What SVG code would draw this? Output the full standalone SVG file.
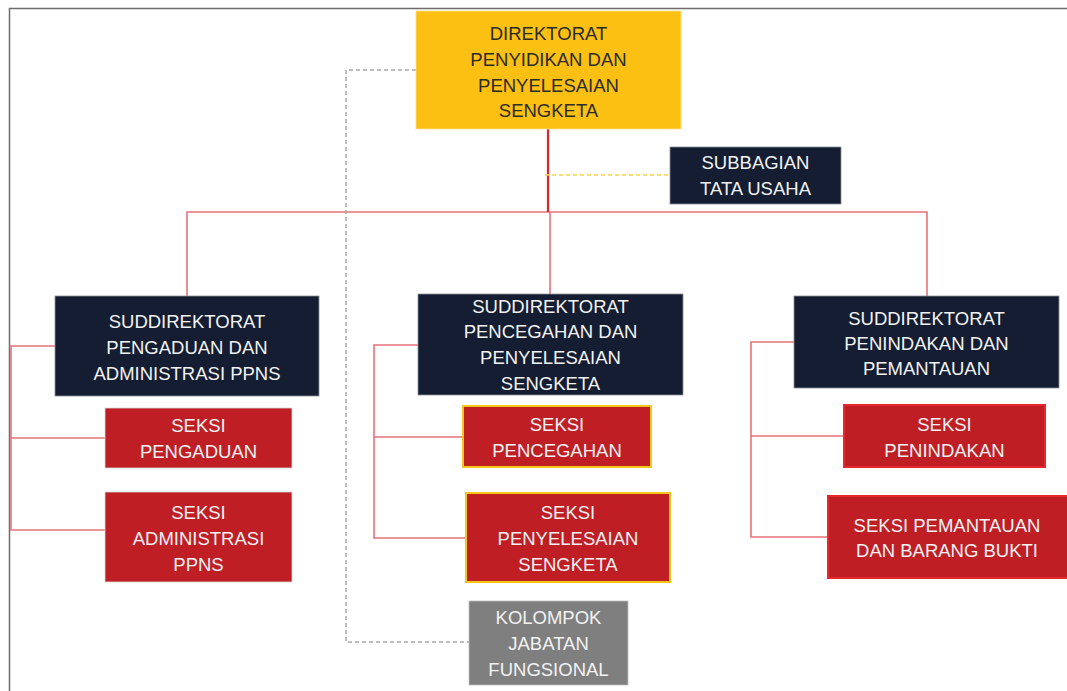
<svg xmlns="http://www.w3.org/2000/svg" width="1067" height="691" viewBox="0 0 1067 691">
<style>
text{font-family:"Liberation Sans",Arial,sans-serif;font-size:18.5px;text-anchor:middle}
.lt{fill:#F2F2F2}
.dk{fill:#2B2B2B}
.navy{fill:#141D31;stroke:#8A8F99;stroke-width:0.8}
.red{fill:#C01E25;stroke:#D9D9D9;stroke-width:0.8}
.redy{fill:#C01E25;stroke:#F5C518;stroke-width:2}
.redr{fill:#C01E25;stroke:#E8262E;stroke-width:2}
.ln{fill:none;stroke:#E8727A;stroke-width:1.6}
</style>
<rect width="1067" height="691" fill="#FFFFFF"/>
<path d="M9.5 691V8.5H1067" fill="none" stroke="#6E6E6E" stroke-width="1.5"/>
<g id="connectors">
<path class="ln" d="M187 296V212H927V297M550 212V295"/>
<path d="M548 129V212" stroke="#E0242C" stroke-width="2.2" fill="none"/>
<path d="M545 175H668" stroke="#F7D24E" stroke-width="1.4" stroke-dasharray="4 3" fill="none"/>
<path d="M416 70H346V642H469" stroke="#A6A6A6" stroke-width="1.4" stroke-dasharray="4 3" fill="none"/>
<path class="ln" d="M55 346H11V530H105M11 438H105"/>
<path class="ln" d="M418 345H374V538H466M374 437H463"/>
<path class="ln" d="M794 342H751V537H828M751 436H844"/>
</g>
<g id="direktorat">
<rect x="416" y="11" width="265" height="118" fill="#FBC011" stroke="#FFE28A" stroke-width="0.8"/>
<text class="dk" x="548.5" y="40">DIREKTORAT</text>
<text class="dk" x="548.5" y="66">PENYIDIKAN DAN</text>
<text class="dk" x="548.5" y="92">PENYELESAIAN</text>
<text class="dk" x="548.5" y="117">SENGKETA</text>
</g>
<g id="subbagian">
<rect class="navy" x="670" y="147" width="171" height="57"/>
<text class="lt" x="755.5" y="169">SUBBAGIAN</text>
<text class="lt" x="755.5" y="195">TATA USAHA</text>
</g>
<g id="sub-pengaduan">
<rect class="navy" x="55" y="296" width="264" height="100"/>
<text class="lt" x="187" y="328">SUDDIREKTORAT</text>
<text class="lt" x="187" y="354">PENGADUAN DAN</text>
<text class="lt" x="187" y="380">ADMINISTRASI PPNS</text>
</g>
<g id="sub-pencegahan">
<rect class="navy" x="418" y="294" width="265" height="101"/>
<text class="lt" x="550.5" y="313">SUDDIREKTORAT</text>
<text class="lt" x="550.5" y="338">PENCEGAHAN DAN</text>
<text class="lt" x="550.5" y="364">PENYELESAIAN</text>
<text class="lt" x="550.5" y="390">SENGKETA</text>
</g>
<g id="sub-penindakan">
<rect class="navy" x="794" y="296" width="265" height="92"/>
<text class="lt" x="926.5" y="325">SUDDIREKTORAT</text>
<text class="lt" x="926.5" y="350">PENINDAKAN DAN</text>
<text class="lt" x="926.5" y="375">PEMANTAUAN</text>
</g>
<g id="seksi-pengaduan">
<rect class="red" x="105" y="408" width="187" height="60"/>
<text class="lt" x="198.5" y="432">SEKSI</text>
<text class="lt" x="198.5" y="458">PENGADUAN</text>
</g>
<g id="seksi-administrasi">
<rect class="red" x="105" y="492" width="187" height="90"/>
<text class="lt" x="198.5" y="519">SEKSI</text>
<text class="lt" x="198.5" y="545">ADMINISTRASI</text>
<text class="lt" x="198.5" y="571">PPNS</text>
</g>
<g id="seksi-pencegahan">
<rect class="redy" x="463" y="406" width="188" height="61"/>
<text class="lt" x="557" y="431">SEKSI</text>
<text class="lt" x="557" y="457">PENCEGAHAN</text>
</g>
<g id="seksi-penyelesaian">
<rect class="redy" x="466" y="493" width="204" height="89"/>
<text class="lt" x="568" y="519">SEKSI</text>
<text class="lt" x="568" y="545">PENYELESAIAN</text>
<text class="lt" x="568" y="571">SENGKETA</text>
</g>
<g id="seksi-penindakan">
<rect class="redr" x="844" y="405" width="201" height="62"/>
<text class="lt" x="944.5" y="431">SEKSI</text>
<text class="lt" x="944.5" y="457">PENINDAKAN</text>
</g>
<g id="seksi-pemantauan">
<rect class="redr" x="828" y="496" width="240" height="82"/>
<text class="lt" x="947" y="532">SEKSI PEMANTAUAN</text>
<text class="lt" x="947" y="557">DAN BARANG BUKTI</text>
</g>
<g id="kelompok">
<rect x="469" y="601" width="159" height="84" fill="#7F7F7F" stroke="#BFBFBF" stroke-width="0.8"/>
<text class="lt" x="548.5" y="624">KOLOMPOK</text>
<text class="lt" x="548.5" y="650">JABATAN</text>
<text class="lt" x="548.5" y="676">FUNGSIONAL</text>
</g>
</svg>
